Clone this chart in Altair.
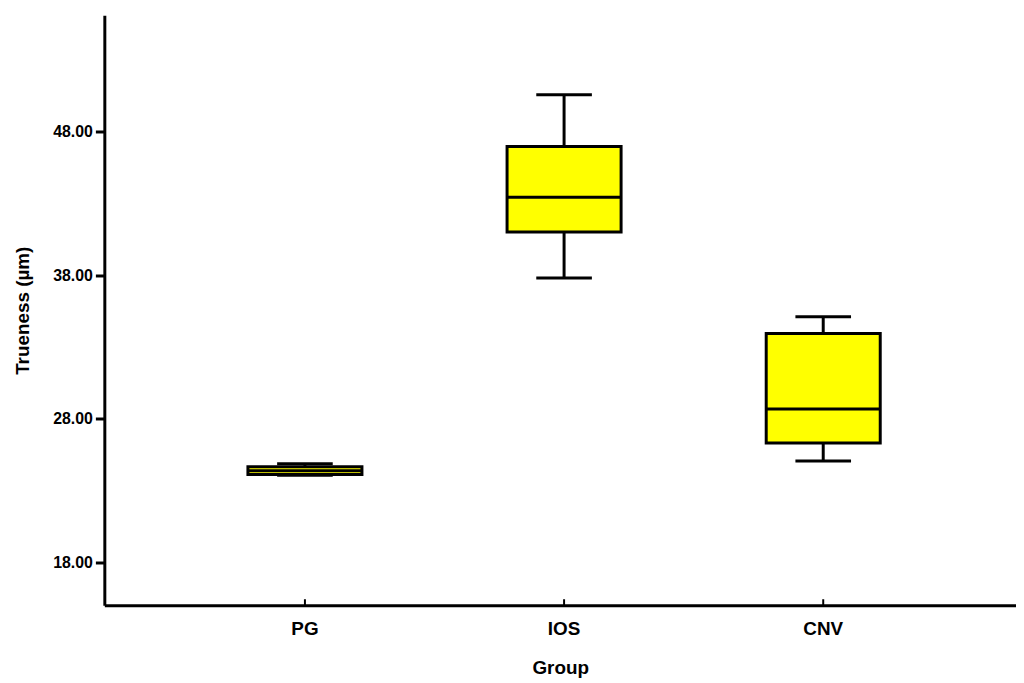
import altair as alt
import pandas as pd

groups = ["PG", "IOS", "CNV"]
w_low = [24.05, 37.8, 25.05]
q1 = [24.1, 41.0, 26.3]
median = [24.37, 43.43, 28.67]
q3 = [24.65, 46.96, 33.93]
w_high = [24.85, 50.56, 35.1]
y_ticks = [18, 28, 38, 48]

df = pd.DataFrame({"group": groups, "lo": w_low, "q1": q1, "med": median,
                   "q3": q3, "hi": w_high})

W, H = 918, 594
FONT = "Liberation Sans"

xs = alt.Scale(domain=groups, paddingInner=0.56, paddingOuter=0.539, align=0.514)
ys = alt.Scale(domain=[15, 56.1], nice=False, zero=False)

x = alt.X("group:N", scale=xs, sort=groups,
          axis=alt.Axis(title="Group", labelAngle=0, ticks=False, labelPadding=15,
                        titlePadding=20))
y_axis = alt.Axis(title="Trueness (µm)", values=y_ticks, format=".2f", grid=False,
                  tickSize=9, labelPadding=3, titlePadding=20)

base = alt.Chart(df)

whisk_lo = base.mark_rule(color="black", strokeWidth=3, opacity=1).encode(
    x=x, y=alt.Y("lo:Q", scale=ys, axis=y_axis), y2="q1:Q")
whisk_hi = base.mark_rule(color="black", strokeWidth=3, opacity=1).encode(
    x=x, y=alt.Y("q3:Q", scale=ys), y2="hi:Q")
caps_lo = base.mark_tick(color="black", thickness=3, size=56, orient="horizontal",
                         opacity=1).encode(x=x, y=alt.Y("lo:Q", scale=ys))
caps_hi = base.mark_tick(color="black", thickness=3, size=56, orient="horizontal",
                         opacity=1).encode(x=x, y=alt.Y("hi:Q", scale=ys))
box = base.mark_bar(color="#FFFF00", stroke="black", strokeWidth=3, opacity=1).encode(
    x=x, y=alt.Y("q1:Q", scale=ys), y2="q3:Q")
med = base.mark_tick(color="black", thickness=3, size=114, orient="horizontal",
                     opacity=1).encode(x=x, y=alt.Y("med:Q", scale=ys))
xticks = base.mark_rule(color="black", strokeWidth=2, opacity=1).encode(
    x=x, y=alt.value(H - 6), y2=alt.value(H))

chart = alt.layer(whisk_lo, whisk_hi, caps_lo, caps_hi, box, med, xticks).properties(
    width=W, height=H, padding={"left": 5, "top": 5, "right": 0, "bottom": 5}
).configure_view(stroke=None).configure_axis(
    domainColor="black", domainWidth=3, tickColor="black", tickWidth=3,
    labelFont=FONT, titleFont=FONT, labelFontWeight="bold", titleFontWeight="bold",
    labelColor="black", titleColor="black", labelFontSize=16, titleFontSize=19
).configure_axisX(labelFontSize=19, titleFontSize=19)

chart.save("out.html", embed_options={"renderer": "svg", "actions": False})
